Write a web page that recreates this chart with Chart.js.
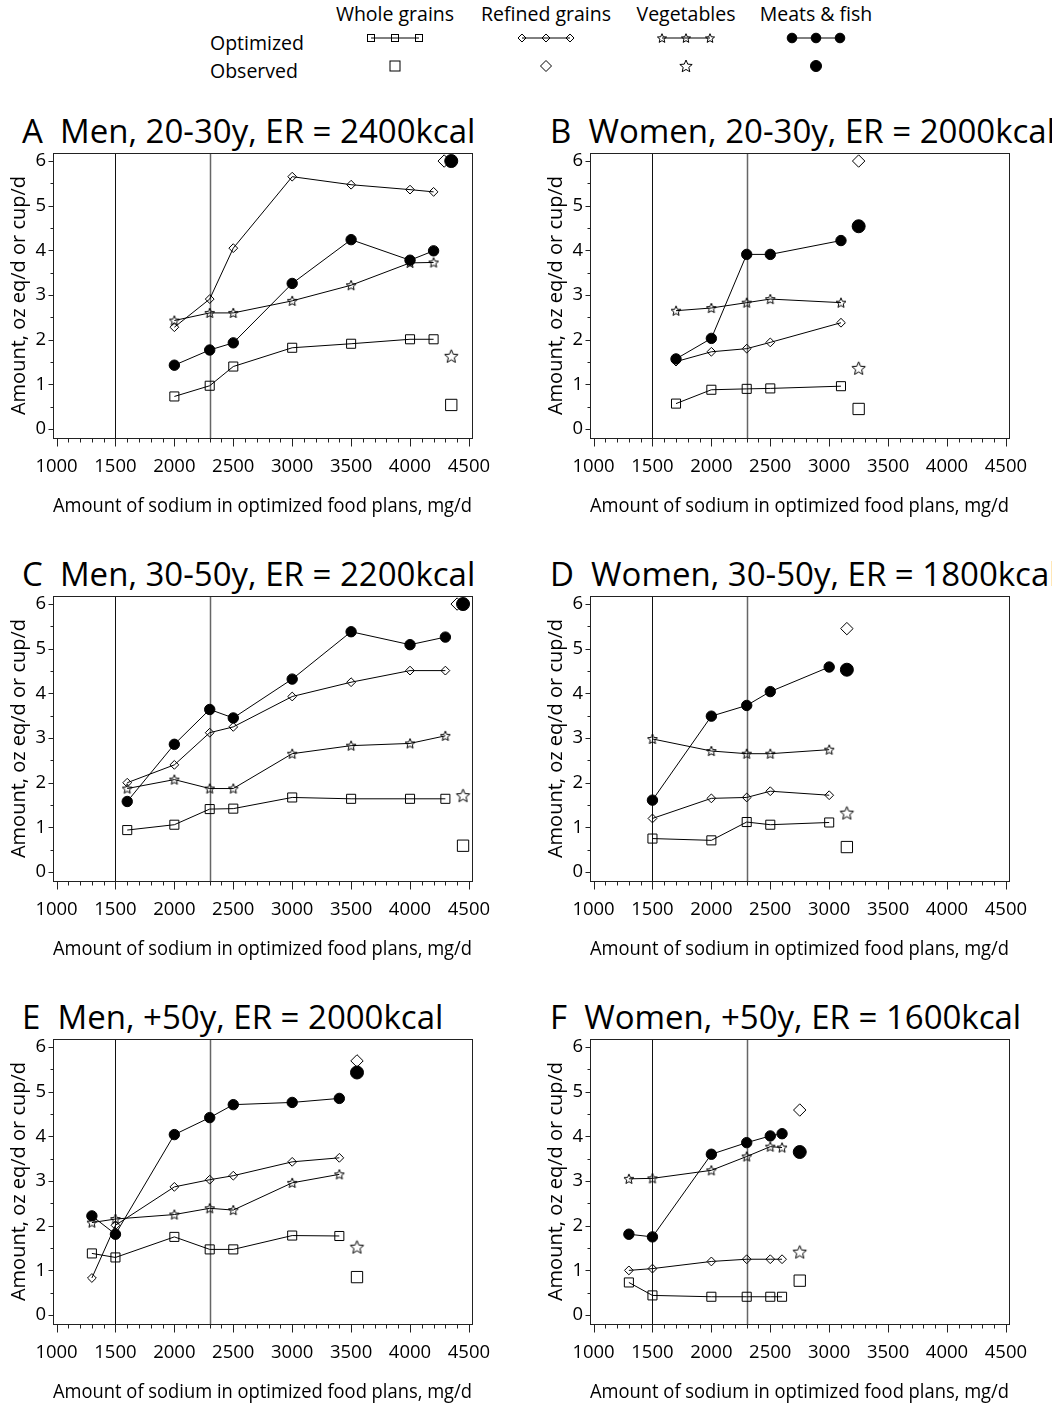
<!DOCTYPE html>
<html lang="en">
<head>
  <meta charset="UTF-8">
  <title>Food group amounts in optimized food plans by sodium level</title>
  <script src="https://cdn.jsdelivr.net/npm/chart.js"></script>
  <style>
    body {
      margin: 0;
      width: 1052px;
      height: 1407px;
      overflow: hidden;
      position: relative;
      background: #ffffff;
      font-family: 'Open Sans', sans-serif;
      color: #000;
    }
    canvas { position: absolute; }
    .ptitle {
      position: absolute;
      font-size: 33px;
      line-height: 34px;
      white-space: pre;
    }
    #legend { position: absolute; left: 0; top: 0; }
  </style>
</head>
<body>
  <svg id="legend" width="1052" height="95"></svg>

  <script>
    // food groups and reference sodium levels (AI 1500, UL 2300)
    const groups = ['Whole grains', 'Refined grains', 'Vegetables', 'Meats & fish'];
    const guideLines = [1500, 2300];
    const sodiumTicks = [1000, 1500, 2000, 2500, 3000, 3500, 4000, 4500];
    const amountTicks = [0, 1, 2, 3, 4, 5, 6];

    // A - Men 20-30y
    const sodiumA = [2000, 2300, 2500, 3000, 3500, 4000, 4200];
    const wholeA = [0.73, 0.97, 1.40, 1.82, 1.91, 2.01, 2.01];
    const refinedA = [2.28, 2.91, 4.05, 5.65, 5.47, 5.36, 5.31];
    const vegA = [2.43, 2.60, 2.60, 2.87, 3.22, 3.72, 3.73];
    const meatA = [1.43, 1.77, 1.93, 3.26, 4.24, 3.78, 3.99];
    const obsSodiumA = [4350, 4290, 4350, 4350];
    const observedA = [0.54, 6.0, 1.63, 6.0];

    // B - Women 20-30y
    const sodiumB = [1700, 2000, 2300, 2500, 3100];
    const wholeB = [0.57, 0.88, 0.90, 0.91, 0.96];
    const refinedB = [1.51, 1.73, 1.80, 1.94, 2.38];
    const vegB = [2.65, 2.71, 2.83, 2.91, 2.83];
    const meatB = [1.57, 2.03, 3.91, 3.91, 4.22];
    const obsSodiumB = [3250, 3250, 3250, 3250];
    const observedB = [0.45, 6.0, 1.36, 4.54];

    // C - Men 30-50y
    const sodiumC = [1600, 2000, 2300, 2500, 3000, 3500, 4000, 4300];
    const wholeC = [0.94, 1.06, 1.41, 1.42, 1.67, 1.64, 1.64, 1.64];
    const refinedC = [2.00, 2.40, 3.12, 3.25, 3.93, 4.25, 4.51, 4.51];
    const vegC = [1.87, 2.07, 1.87, 1.87, 2.65, 2.83, 2.88, 3.05];
    const meatC = [1.58, 2.86, 3.64, 3.45, 4.32, 5.38, 5.09, 5.26];
    const obsSodiumC = [4450, 4400, 4450, 4450];
    const observedC = [0.59, 6.0, 1.71, 6.0];

    // D - Women 30-50y
    const sodiumD = [1500, 2000, 2300, 2500, 3000];
    const wholeD = [0.75, 0.71, 1.12, 1.06, 1.11];
    const refinedD = [1.20, 1.65, 1.67, 1.81, 1.72];
    const vegD = [2.98, 2.71, 2.65, 2.65, 2.74];
    const meatD = [1.61, 3.49, 3.73, 4.04, 4.59];
    const obsSodiumD = [3150, 3150, 3150, 3150];
    const observedD = [0.56, 5.45, 1.32, 4.53];

    // E - Men +50y
    const sodiumE = [1300, 1500, 2000, 2300, 2500, 3000, 3400];
    const wholeE = [1.38, 1.29, 1.75, 1.47, 1.47, 1.78, 1.77];
    const refinedE = [0.83, 2.01, 2.87, 3.03, 3.12, 3.43, 3.52];
    const vegE = [2.07, 2.15, 2.25, 2.39, 2.35, 2.96, 3.15];
    const meatE = [2.22, 1.81, 4.04, 4.42, 4.71, 4.76, 4.85];
    const obsSodiumE = [3550, 3550, 3550, 3550];
    const observedE = [0.85, 5.69, 1.52, 5.43];

    // F - Women +50y
    const sodiumF = [1300, 1500, 2000, 2300, 2500, 2600];
    const wholeF = [0.73, 0.44, 0.41, 0.41, 0.41, 0.41];
    const refinedF = [1.00, 1.04, 1.20, 1.25, 1.25, 1.25];
    const vegF = [3.05, 3.06, 3.24, 3.55, 3.77, 3.75];
    const meatF = [1.81, 1.75, 3.60, 3.86, 4.01, 4.06];
    const obsSodiumF = [2750, 2750, 2750, 2750];
    const observedF = [0.77, 4.59, 1.41, 3.65];

    const panels = [
      { title: 'A  Men, 20-30y, ER = 2400kcal', row: 0, col: 0, sodium: sodiumA, series: [wholeA, refinedA, vegA, meatA], obsX: obsSodiumA, obs: observedA },
      { title: 'B  Women, 20-30y, ER = 2000kcal', row: 0, col: 1, sodium: sodiumB, series: [wholeB, refinedB, vegB, meatB], obsX: obsSodiumB, obs: observedB },
      { title: 'C  Men, 30-50y, ER = 2200kcal', row: 1, col: 0, sodium: sodiumC, series: [wholeC, refinedC, vegC, meatC], obsX: obsSodiumC, obs: observedC },
      { title: 'D  Women, 30-50y, ER = 1800kcal', row: 1, col: 1, sodium: sodiumD, series: [wholeD, refinedD, vegD, meatD], obsX: obsSodiumD, obs: observedD },
      { title: 'E  Men, +50y, ER = 2000kcal', row: 2, col: 0, sodium: sodiumE, series: [wholeE, refinedE, vegE, meatE], obsX: obsSodiumE, obs: observedE },
      { title: 'F  Women, +50y, ER = 1600kcal', row: 2, col: 1, sodium: sodiumF, series: [wholeF, refinedF, vegF, meatF], obsX: obsSodiumF, obs: observedF }
    ];

    // layout
    const chartTops = [153, 596, 1039];
    const chartLefts = [53, 590];
    const titleLefts = [22, 550];
    const canvasWidths = [520, 515];
    const AREA_W = 419, AREA_H = 285, Y_AXIS_W = 53, TOP_PAD = 40, X_AXIS_H = 80;
    const FONT = "'Open Sans', sans-serif";
    const LABEL_SIZE = 18.5, TITLE_SIZE = 20;

    function starPoints(cx, cy, R) {
      const r = R * 0.45;
      const pts = [];
      for (let i = 0; i < 10; i++) {
        const rad = i % 2 ? r : R;
        const a = -Math.PI / 2 + i * Math.PI / 5;
        pts.push([cx + rad * Math.cos(a), cy + rad * Math.sin(a)]);
      }
      return pts;
    }

    function starCanvas(R) {
      const s = Math.ceil(R * 2 + 3);
      const c = document.createElement('canvas');
      c.width = s; c.height = s;
      const g = c.getContext('2d');
      g.strokeStyle = '#000';
      g.lineWidth = 1;
      g.beginPath();
      starPoints(s / 2, s / 2 + 0.4, R).forEach((p, i) => i ? g.lineTo(p[0], p[1]) : g.moveTo(p[0], p[1]));
      g.closePath();
      g.stroke();
      return c;
    }

    const markers = [
      { style: 'rect', opt: 6.4, obs: 8, fill: 'rgba(0,0,0,0)' },
      { style: 'rectRot', opt: 4.4, obs: 6.2, fill: 'rgba(0,0,0,0)' },
      { style: null, opt: 5.2, obs: 7, fill: 'rgba(0,0,0,0)' },
      { style: 'circle', opt: 5.2, obs: 6.5, fill: '#000' }
    ];
    const starSmall = starCanvas(5.2);
    const starBig = starCanvas(7);

    const framePlugin = {
      id: 'frame',
      beforeDatasetsDraw(chart) {
        const { ctx, chartArea: a, scales: { x } } = chart;
        ctx.save();
        guideLines.forEach((v, i) => {
          const px = Math.round(x.getPixelForValue(v)) + 0.5;
          ctx.strokeStyle = i === 0 ? '#111' : '#666';
          ctx.lineWidth = i === 0 ? 1 : 1.5;
          ctx.beginPath();
          ctx.moveTo(px, a.top);
          ctx.lineTo(px, a.bottom);
          ctx.stroke();
        });
        ctx.restore();
      },
      afterDraw(chart) {
        const { ctx, chartArea: a, scales: { x, y } } = chart;
        ctx.save();
        ctx.strokeStyle = '#222';
        ctx.lineWidth = 1;
        ctx.strokeRect(Math.round(a.left) + 0.5, Math.round(a.top) + 0.5, Math.round(a.right - a.left), Math.round(a.bottom - a.top));
        const yb = Math.round(a.bottom) + 0.5;
        ctx.beginPath();
        for (let v = sodiumTicks[0]; v <= sodiumTicks[sodiumTicks.length - 1]; v += 100) {
          const px = Math.round(x.getPixelForValue(v)) + 0.5;
          ctx.moveTo(px, yb);
          ctx.lineTo(px, yb + (v % 500 === 0 ? 8 : 4));
        }
        const xl = Math.round(a.left) + 0.5;
        for (let v = 0; v <= 6; v += 0.5) {
          const py = Math.round(y.getPixelForValue(v)) + 0.5;
          ctx.moveTo(xl, py);
          ctx.lineTo(xl - (Number.isInteger(v) ? 5 : 3), py);
        }
        ctx.stroke();
        ctx.restore();
      }
    };

    function buildDatasets(p) {
      const ds = [];
      p.series.forEach((vals, g) => {
        const m = markers[g];
        ds.push({
          label: groups[g] + ' (optimized)',
          data: p.sodium.map((s, i) => ({ x: s, y: vals[i] })),
          showLine: true,
          borderColor: '#000',
          borderWidth: 1,
          pointStyle: m.style || starSmall,
          pointRadius: m.opt,
          pointBorderColor: '#000',
          pointBackgroundColor: m.fill,
          pointBorderWidth: 1
        });
      });
      p.series.forEach((vals, g) => {
        const m = markers[g];
        ds.push({
          label: groups[g] + ' (observed)',
          data: [{ x: p.obsX[g], y: p.obs[g] }],
          showLine: false,
          pointStyle: m.style || starBig,
          pointRadius: m.obs,
          pointBorderColor: '#000',
          pointBackgroundColor: m.fill,
          pointBorderWidth: 1
        });
      });
      return ds;
    }

    panels.forEach(p => {
      const top = chartTops[p.row] - TOP_PAD;
      const left = chartLefts[p.col] - Y_AXIS_W;
      const width = canvasWidths[p.col];
      const height = TOP_PAD + AREA_H + X_AXIS_H;

      const t = document.createElement('div');
      t.className = 'ptitle';
      t.textContent = p.title;
      t.style.left = titleLefts[p.col] + 'px';
      t.style.top = (chartTops[p.row] - 39) + 'px';
      document.body.appendChild(t);

      const cv = document.createElement('canvas');
      cv.width = width; cv.height = height;
      cv.style.left = left + 'px';
      cv.style.top = top + 'px';
      document.body.appendChild(cv);

      new Chart(cv, {
        type: 'scatter',
        data: { datasets: buildDatasets(p) },
        options: {
          responsive: false,
          animation: false,
          clip: false,
          layout: { padding: { left: 0, top: TOP_PAD, bottom: 0, right: width - Y_AXIS_W - AREA_W } },
          plugins: { legend: { display: false }, tooltip: { enabled: false } },
          scales: {
            x: {
              type: 'linear', min: 970, max: 4526,
              afterFit(s) { s.height = X_AXIS_H; },
              afterBuildTicks(s) { s.ticks = sodiumTicks.map(v => ({ value: v })); },
              grid: { display: false, drawTicks: false },
              border: { display: false },
              ticks: { padding: 18, color: '#000', font: { family: FONT, size: LABEL_SIZE }, maxRotation: 0, autoSkip: false, callback: v => String(v) },
              title: { display: true, text: 'Amount of sodium in optimized food plans, mg/d', color: '#000', font: { family: FONT, size: TITLE_SIZE }, padding: { top: 0, bottom: 0 } }
            },
            y: {
              type: 'linear', min: -0.2, max: 6.18,
              afterFit(s) { s.width = Y_AXIS_W; },
              afterBuildTicks(s) { s.ticks = amountTicks.map(v => ({ value: v })); },
              grid: { display: false, drawTicks: false },
              border: { display: false },
              ticks: { padding: 7, color: '#000', font: { family: FONT, size: LABEL_SIZE }, callback: v => String(v) },
              title: { display: true, text: 'Amount, oz eq/d or cup/d', color: '#000', font: { family: FONT, size: TITLE_SIZE }, padding: { top: 7, bottom: 0 } }
            }
          }
        },
        plugins: [framePlugin]
      });
    });

    // legend drawn as svg
    const legendCols = [395, 546, 686, 816];
    const NS = 'http://www.w3.org/2000/svg';
    const svg = document.getElementById('legend');
    function el(name, attrs, text) {
      const e = document.createElementNS(NS, name);
      Object.entries(attrs).forEach(([k, v]) => e.setAttribute(k, v));
      if (text) e.textContent = text;
      svg.appendChild(e);
      return e;
    }
    function symbol(g, cx, cy, big) {
      const base = { fill: g === 3 ? '#000' : '#fff', stroke: '#000', 'stroke-width': 1 };
      if (g === 0) {
        const s = big ? 10 : 7;
        el('rect', Object.assign({ x: cx - s / 2, y: cy - s / 2, width: s, height: s }, base, { fill: big ? '#fff' : 'none' }));
      } else if (g === 1) {
        const r = big ? 5.5 : 4;
        el('polygon', Object.assign({ points: `${cx - r},${cy} ${cx},${cy - r} ${cx + r},${cy} ${cx},${cy + r}` }, base, { fill: big ? '#fff' : 'none' }));
      } else if (g === 2) {
        const pts = starPoints(cx, cy + 0.5, big ? 6.5 : 4.8).map(p => p.join(',')).join(' ');
        el('polygon', Object.assign({ points: pts }, base, { fill: big ? '#fff' : 'none' }));
      } else {
        el('circle', Object.assign({ cx, cy, r: big ? 5.5 : 4.8 }, base));
      }
    }
    const txt = { 'font-family': 'Open Sans, sans-serif', 'font-size': 19.5, fill: '#000' };
    el('text', Object.assign({ x: 210, y: 50 }, txt), 'Optimized');
    el('text', Object.assign({ x: 210, y: 78 }, txt), 'Observed');
    groups.forEach((name, g) => {
      const c = legendCols[g];
      el('text', Object.assign({ x: c, y: 21, 'text-anchor': 'middle' }, txt), name);
      el('line', { x1: c - 24, y1: 38, x2: c + 24, y2: 38, stroke: '#000', 'stroke-width': 1 });
      [c - 24, c, c + 24].forEach(cx => symbol(g, cx, 38, false));
      symbol(g, c, 66, true);
    });
  </script>
</body>
</html>
